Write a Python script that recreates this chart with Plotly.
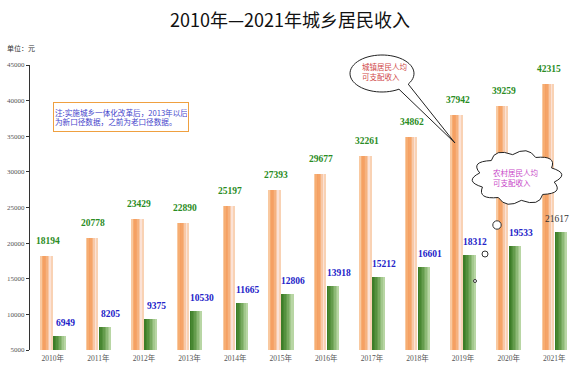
import plotly.graph_objects as go
import math

# ---------------- data ----------------
years = ['2010年', '2011年', '2012年', '2013年', '2014年', '2015年',
         '2016年', '2017年', '2018年', '2019年', '2020年', '2021年']
urban = [18194, 20778, 23429, 22890, 25197, 27393, 29677, 32261, 34862, 37942, 39259, 42315]
rural = [6949, 8205, 9375, 10530, 11665, 12806, 13918, 15212, 16601, 18312, 19533, 21617]
y_ticks = [5000, 10000, 15000, 20000, 25000, 30000, 35000, 40000, 45000]
y_tick_labels = ['5000', '10000', '15000', '20000', '25000', '30000', '35000', '40000', '45000']

title_text = '2010年—2021年城乡居民收入'
unit_text = '单位：元'
note_text = '注:实施城乡一体化改革后，2013年以后<br>为新口径数据，之前为老口径数据。'
urban_callout = '城镇居民人均<br>可支配收入'
rural_callout = '农村居民人均<br>可支配收入'

# ---------------- geometry / style ----------------
W, H = 581, 372
ML, MR, MT, MB = 30, 4, 65, 22
PW, PH = W - ML - MR, H - MT - MB

def px2paper(px, py):
    return (px - ML) / PW, (H - MB - py) / PH

SERIF = 'Liberation Serif, Noto Sans CJK SC, serif'
CJK = 'Noto Sans CJK SC, sans-serif'

urban_cols = ['#F9C9A0', '#F6AD72', '#F5A063', '#F5A468', '#F6B27F',
              '#F8C9A8', '#FBE2D6', '#F9D2B4']
rural_cols = ['#3D7D28', '#488732', '#55913E', '#659C4D', '#78AA60',
              '#8DB976', '#A3C88D', '#B8D6A4']

x = list(range(len(years)))
fig = go.Figure()

def add_sliced(values, cols, start, total_w):
    n = len(cols)
    w = total_w / n
    for k, c in enumerate(cols):
        fig.add_trace(go.Bar(x=x, y=values, width=w * 1.02, offset=start + k * w,
                             marker=dict(color=c, line=dict(width=0)),
                             showlegend=False, hoverinfo='skip'))

add_sliced(urban, urban_cols, -0.265, 0.26)
add_sliced(rural, rural_cols, 0.02, 0.26)

annotations = []
for i, v in enumerate(urban):
    annotations.append(dict(x=i - 0.11, y=v, xref='x', yref='y', text=str(v),
                            showarrow=False, yanchor='middle', yshift=15,
                            font=dict(family=SERIF, size=9.5, color='#2A8C24', weight='bold')))
for i, v in enumerate(rural):
    last = i == len(rural) - 1
    annotations.append(dict(x=i + (0.07 if last else 0.27), y=v, xref='x', yref='y', text=str(v),
                            showarrow=False, yanchor='middle', yshift=13,
                            font=dict(family=SERIF, size=9.5,
                                      color='#333333' if last else '#2323C8',
                                      weight='normal' if last else 'bold')))

# unit label
ux, uy = px2paper(5, 48)
annotations.append(dict(x=ux, y=uy, xref='paper', yref='paper', text=unit_text,
                        showarrow=False, xanchor='left', yanchor='middle',
                        font=dict(family=SERIF, size=7, color='#333333')))

# note box
nx, ny = px2paper(53, 102)
annotations.append(dict(x=nx, y=ny, xref='paper', yref='paper', text=note_text,
                        showarrow=False, xanchor='left', yanchor='top', align='left',
                        width=132, height=26, borderpad=1,
                        bordercolor='#EFA040', borderwidth=1, bgcolor='white',
                        font=dict(family=CJK, size=7.6, color='#4646CC')))

shapes = []

# speech bubble (ellipse with tail)
cx, cy, rx, ry = 382, 73.5, 32, 18.5
tip = (455, 143)
a0, a1 = 35, 58
pts = []
for d in range(a1, 360 + a0 + 1, 6):
    a = math.radians(d)
    pts.append((cx + rx * math.cos(a), cy + ry * math.sin(a)))
a = math.radians(360 + a0)
pts.append((cx + rx * math.cos(a), cy + ry * math.sin(a)))
pts.append(tip)
path = ''
for j, (px, py) in enumerate(pts):
    qx, qy = px2paper(px, py)
    path += ('M' if j == 0 else 'L') + f'{qx:.5f},{qy:.5f} '
path += 'Z'
shapes.append(dict(type='path', xref='paper', yref='paper', path=path,
                   fillcolor='white', line=dict(color='#222222', width=1)))
bx, by = px2paper(360, 72)
annotations.append(dict(x=bx, y=by, xref='paper', yref='paper', text=urban_callout,
                        showarrow=False, xanchor='left', yanchor='middle', align='left',
                        font=dict(family=CJK, size=7.5, color='#D04848')))

# cloud
ccx, ccy, crx, cry = 517, 177.5, 38, 23
nb = 10
cpts = []
for k in range(nb + 1):
    a = 2 * math.pi * k / nb + 0.2
    cpts.append((ccx + crx * math.cos(a), ccy + cry * math.sin(a)))
cpath = ''
qx, qy = px2paper(*cpts[0])
cpath += f'M{qx:.5f},{qy:.5f} '
for k in range(nb):
    am = 2 * math.pi * (k + 0.5) / nb + 0.2
    cxp = ccx + crx * 1.42 * math.cos(am)
    cyp = ccy + cry * 1.42 * math.sin(am)
    c1x, c1y = px2paper(cxp, cyp)
    ex, ey = px2paper(*cpts[k + 1])
    cpath += f'Q{c1x:.5f},{c1y:.5f} {ex:.5f},{ey:.5f} '
cpath += 'Z'
shapes.append(dict(type='path', xref='paper', yref='paper', path=cpath,
                   fillcolor='white', line=dict(color='#222222', width=1)))
tx, ty = px2paper(491, 177)
annotations.append(dict(x=tx, y=ty, xref='paper', yref='paper', text=rural_callout,
                        showarrow=False, xanchor='left', yanchor='middle', align='left',
                        font=dict(family=CJK, size=7.5, color='#C848C8')))

for (px, py, r) in [(497, 225, 4.2), (485, 254, 3), (475, 281, 1.5)]:
    x0, y0 = px2paper(px - r, py + r)
    x1, y1 = px2paper(px + r, py - r)
    shapes.append(dict(type='circle', xref='paper', yref='paper', x0=x0, y0=y0, x1=x1, y1=y1,
                       fillcolor='white', line=dict(color='#333333', width=1)))

fig.update_layout(
    width=W, height=H,
    margin=dict(l=ML, r=MR, t=MT, b=MB, autoexpand=False),
    paper_bgcolor='white', plot_bgcolor='white',
    barmode='overlay', bargap=0,
    title=dict(text=title_text, x=290 / W, xref='container', xanchor='center',
               y=1 - 21 / H, yref='container', yanchor='middle',
               font=dict(family=CJK, size=18, color='#111111')),
    xaxis=dict(range=[-0.5, len(years) - 0.5], tickmode='array', tickvals=x, ticktext=years,
               showgrid=False, zeroline=False, showline=False, ticks='', automargin=False,
               tickfont=dict(family=SERIF, size=7.5, color='#555555'), ticklabelstandoff=2),
    yaxis=dict(range=[5000, 45000], tickmode='array', tickvals=y_ticks, ticktext=y_tick_labels,
               showgrid=False, zeroline=False, showline=True, linecolor='#333333', linewidth=1,
               ticks='outside', ticklen=3, tickcolor='#333333', automargin=False,
               tickfont=dict(family=SERIF, size=7, color='#555555')),
    annotations=annotations, shapes=shapes,
)

fig.write_html('out.html', config={'displayModeBar': False},
               post_script="document.body.style.margin='0';document.body.style.overflow='hidden';")
